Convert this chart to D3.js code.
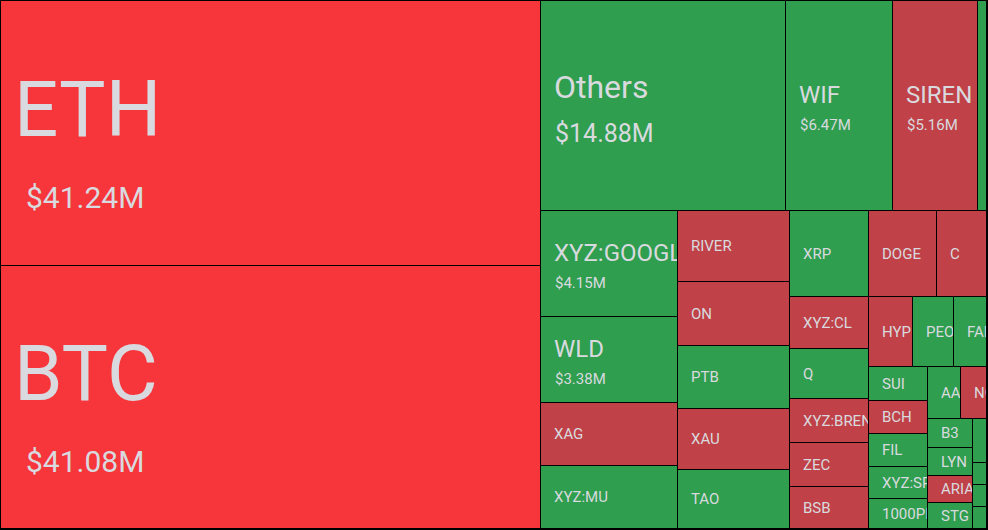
<!DOCTYPE html>
<html>
<head>
<meta charset="utf-8">
<script src="https://cdn.jsdelivr.net/npm/d3@7"></script>
<style>
  html, body { margin: 0; padding: 0; background: #000; }
  text { font-family: Roboto, "Noto Sans", sans-serif; fill: #d9dadf; }
</style>
</head>
<body>
<svg id="canvas"></svg>
<script>
let svg = d3.select("#canvas");

let width = 988;
let height = 530;

svg.attr('width', width)
    .attr('height', height)

// coins, in the order the map places them
let names = [
  'ETH', 'BTC',
  'Others', 'WIF', 'SIREN', 'PUMP',
  'XYZ:GOOGL', 'WLD', 'XAG', 'XYZ:MU',
  'RIVER', 'ON', 'PTB', 'XAU', 'TAO',
  'XRP', 'DOGE', 'C',
  'XYZ:CL', 'Q', 'XYZ:BRENT', 'ZEC', 'BSB',
  'HYP', 'PEOPLE', 'FARTCOIN',
  'SUI', 'BCH', 'FIL', 'XYZ:SPX', '1000PEPE',
  'AAVE', 'NOT',
  'B3', 'LYN', 'ARIA', 'STG',
  'ENA', 'TRUMP', 'LINK', 'ADA'
];

// liquidation volume, $M
let values = [
  41.24, 41.08,
  14.88, 6.47, 5.16, 0.55,
  4.15, 3.38, 2.48, 2.47,
  2.28, 2.08, 2.05, 1.95, 1.92,
  1.95, 1.67, 1.23,
  1.20, 1.13, 1.02, 0.99, 0.97,
  0.89, 0.83, 0.67,
  0.58, 0.57, 0.57, 0.54, 0.51,
  0.49, 0.40,
  0.38, 0.35, 0.35, 0.34,
  0.18, 0.09, 0.09, 0.09
];

// -2 strong fall, -1 fall, 1 rise
let trend = [
  -2, -2,
  1, 1, -1, 1,
  1, 1, -1, 1,
  -1, -1, 1, -1, 1,
  1, -1, -1,
  -1, 1, -1, -1, -1,
  -1, 1, 1,
  1, -1, 1, 1, 1,
  1, -1,
  1, 1, -1, 1,
  1, 1, 1, 1
];

// how many coins go in each strip, and whether the strip is a column or a row
let stripSizes = [2, 4, 4, 5, 3, 5, 3, 5, 2, 4, 4];
let stripDir = ['col', 'row', 'col', 'col', 'row', 'col', 'row', 'col', 'row', 'col', 'col'];

let color = d3.scaleOrdinal()
  .domain([-2, -1, 1])
  .range(['#f6363b', '#c04248', '#2f9e4f']);

let leaves = names.map((n, i) => ({ name: n, value: values[i], trend: trend[i] }));

let strips = [];
let k = 0;
stripSizes.forEach(s => { strips.push(leaves.slice(k, k + s)); k += s; });

function nest(i) {
  let strip = { dir: stripDir[i] === 'col' ? 'y' : 'x', children: strips[i] };
  if (i === strips.length - 1) return strip;
  return { dir: stripDir[i] === 'col' ? 'x' : 'y', children: [strip, nest(i + 1)] };
}

let root = d3.hierarchy(nest(0)).sum(d => d.children ? 0 : d.value);

d3.treemap()
  .size([985, 527])
  .paddingInner(1)
  .round(true)
  .tile((node, x0, y0, x1, y1) =>
    (node.data.dir === 'x' ? d3.treemapDice : d3.treemapSlice)(node, x0, y0, x1, y1))(root);

svg.append('rect')
  .attr('width', width)
  .attr('height', height)
  .attr('fill', '#000');

let g = svg.append('g').attr('transform', 'translate(1,1)');

let cells = g.selectAll('g.cell')
  .data(root.leaves())
  .join('g')
  .attr('class', 'cell')
  .attr('transform', d => `translate(${d.x0},${d.y0})`);

cells.append('clipPath')
  .attr('id', (d, i) => 'clip' + i)
  .append('rect')
  .attr('width', d => d.x1 - d.x0)
  .attr('height', d => d.y1 - d.y0);

cells.append('rect')
  .attr('width', d => d.x1 - d.x0)
  .attr('height', d => d.y1 - d.y0)
  .attr('fill', d => color(d.data.trend));

// label sizes by how big the coin is
function style(d) {
  let v = d.data.value;
  let h = d.y1 - d.y0;
  if (v >= 30) return { name: 78, val: 30, nx: 13, vx: 25, ny: 3, vy: 72, showVal: true };
  if (v >= 10) return { name: 32, val: 25, nx: 13, vx: 14, ny: -8, vy: 44, showVal: true };
  if (v >= 3) return { name: 24, val: 15, nx: 13, vx: 14, ny: -3, vy: 27, showVal: h > 80 };
  return { name: 15, val: 0, nx: 13, vx: 0, ny: 5, vy: 0, showVal: false };
}

let labels = cells.filter(d => d.x1 - d.x0 > 20)
  .append('g')
  .attr('clip-path', (d, i, nodes) => `url(#clip${root.leaves().indexOf(d)})`);

labels.append('text')
  .attr('x', d => style(d).nx)
  .attr('y', d => (d.y1 - d.y0) / 2 + style(d).ny)
  .attr('font-size', d => style(d).name)
  .text(d => d.data.name)
  .each(function(d) {
    // drop letters that start outside the cell; the clip trims the last one
    let w = d.x1 - d.x0;
    let n = d.data.name.length;
    while (n > 1 && this.getStartPositionOfChar(n - 1).x >= w - 1) n--;
    this.textContent = d.data.name.slice(0, n);
  });

labels.filter(d => style(d).showVal)
  .append('text')
  .attr('x', d => style(d).vx)
  .attr('y', d => (d.y1 - d.y0) / 2 + style(d).ny + style(d).vy)
  .attr('font-size', d => style(d).val)
  .text(d => '$' + d3.format('.2f')(d.data.value) + 'M');
</script>
</body>
</html>
